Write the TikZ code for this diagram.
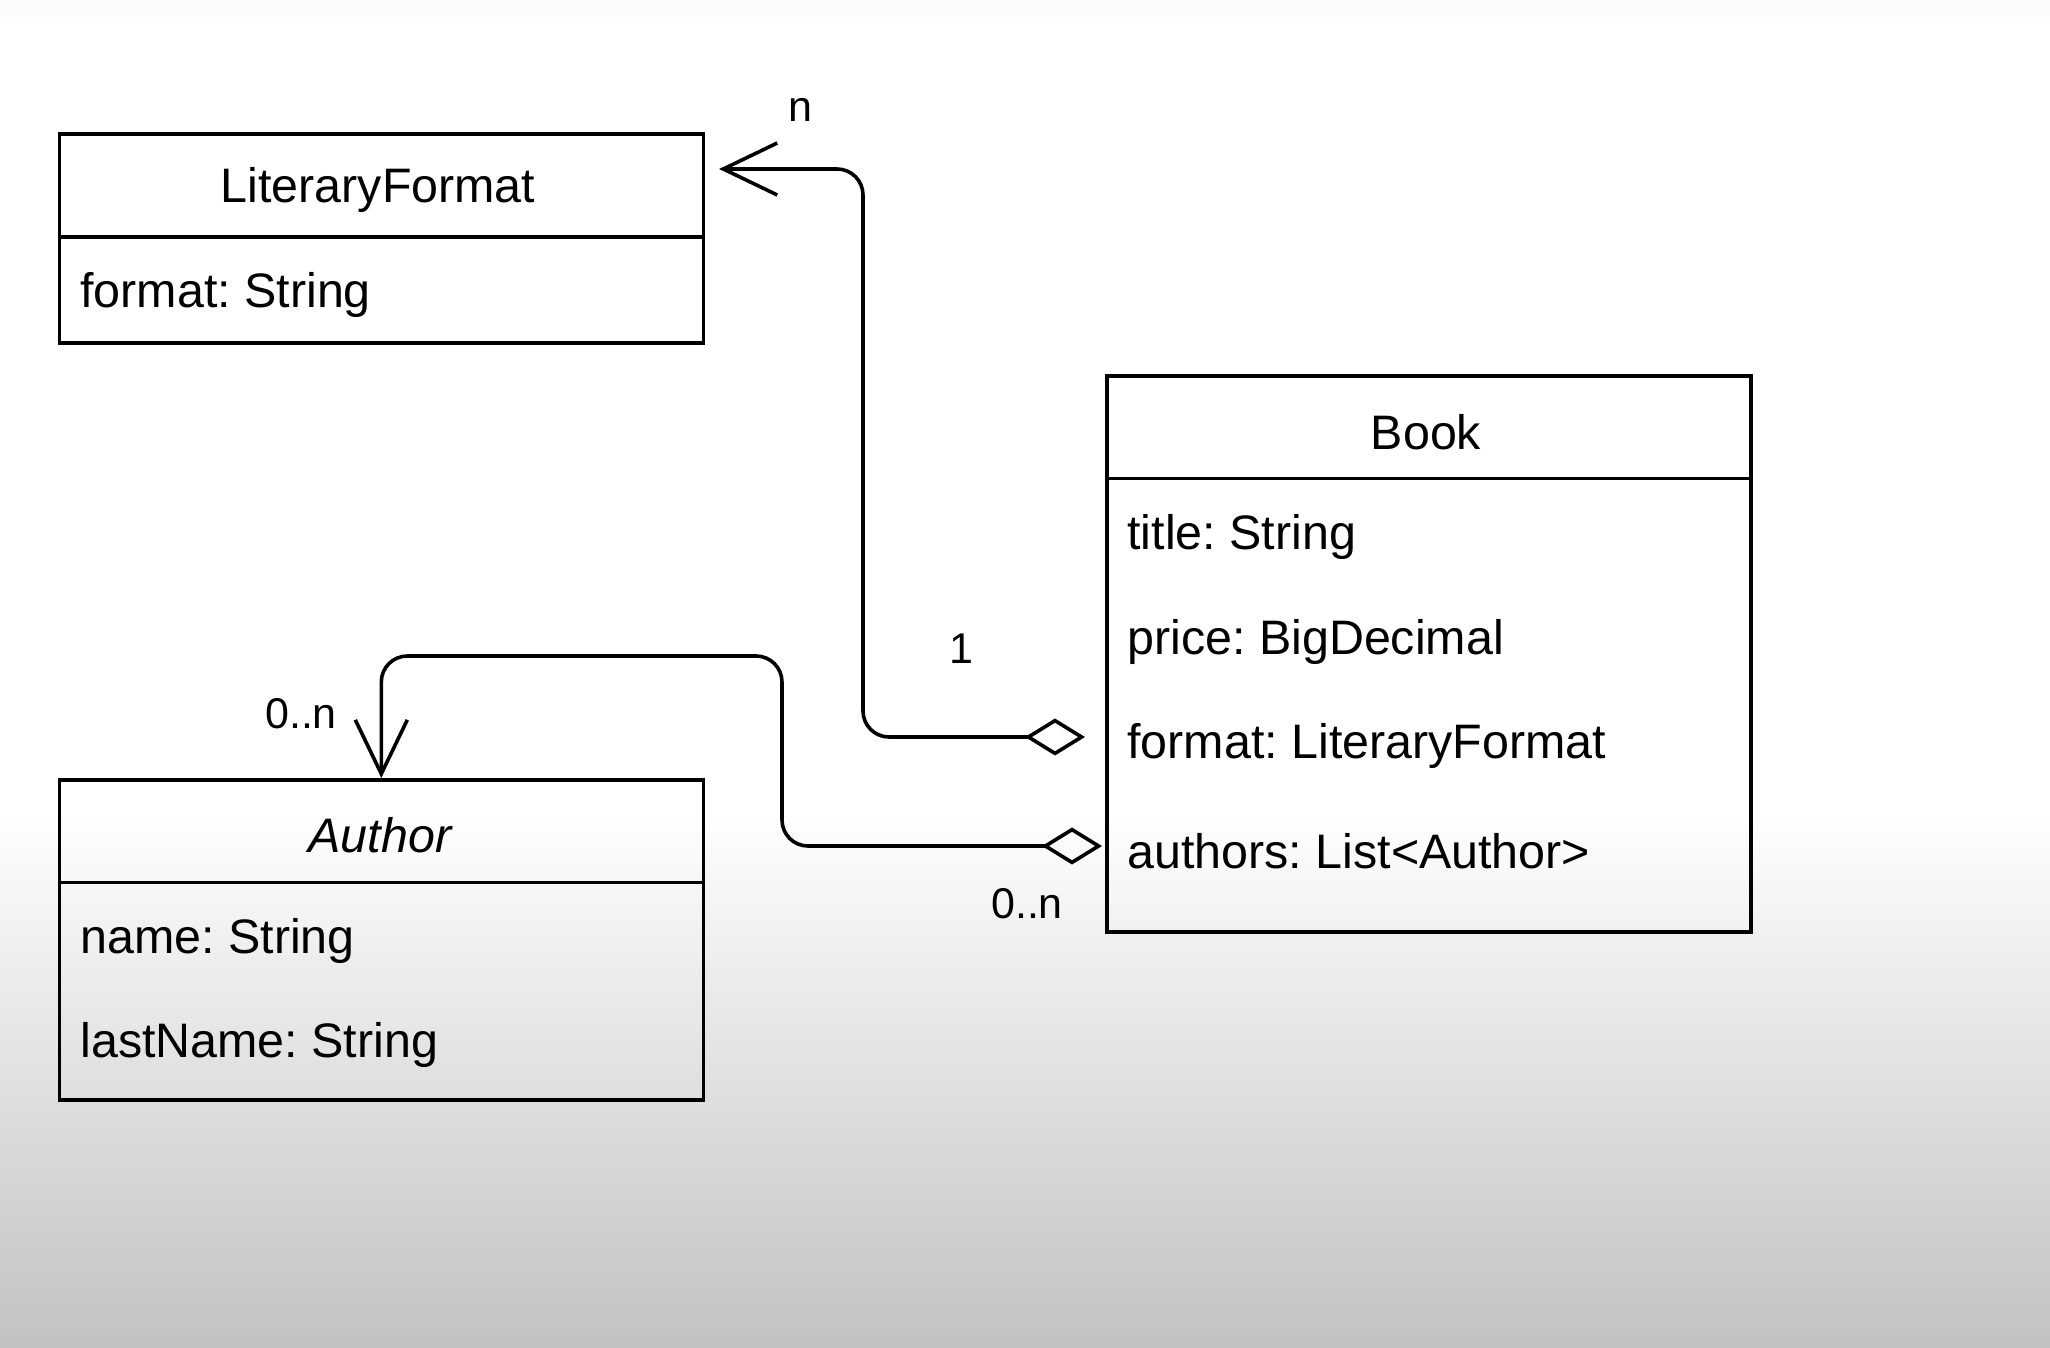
\documentclass[tikz,border=0pt]{standalone}
\usepackage{fontspec}
\setmainfont{Liberation Sans}
\frenchspacing
\usetikzlibrary{positioning,calc,arrows.meta}

\tikzset{
  classbox/.style={draw, line width=1.8pt, inner sep=0pt, anchor=north west, minimum width=322pt},
  divider/.style={line width=1.8pt},
  classname/.style={inner sep=0pt, font=\fontsize{24.2}{29}\selectfont},
  field/.style={anchor=west, inner sep=0pt, font=\fontsize{24.2}{29}\selectfont},
  mult/.style={inner sep=0pt, font=\fontsize{21.5}{26}\selectfont},
  assoc/.style={line width=1.8pt, rounded corners=13pt},
  aggr/.style={assoc, {Diamond[open,length=30pt,width=18.5pt]}-{Straight Barb[length=27pt,width=26pt]}}
}

\begin{document}
\begin{tikzpicture}[x=0.5pt,y=-0.5pt]
        % Background
        \useasboundingbox (0,0) rectangle (2050,1348);
        \fill[white] (0,0) rectangle (2050,1348);
        \shade[top color=black!2, bottom color=white] (0,0) rectangle (2050,24);
        \shade[top color=white, bottom color=black!24] (0,810) rectangle (2050,1348);

        % LiteraryFormat
        \node[classbox, minimum height=104.5pt] (fmt) at (57.5,132) {};
        \draw[divider] (fmt.west |- 0,237) -- (fmt.east |- 0,237);
        \node[classname] (fmtname) at (378,190) {LiteraryFormat};
        \node[field] (fmtf) at (80,295) {format: String};

        % Book
        \node[classbox, minimum height=278pt] (book) at (1105,374) {};
        \draw[divider] (book.west |- 0,478.5) -- (book.east |- 0,478.5);
        \node[classname] (bookname) at (1426,432) {Book};
        \node[field] (btitle) at (1127,537) {title: String};
        \node[field] (bprice) at (1127,642) {price: BigDecimal};
        \node[field] (bfmt) at (1127,746) {format: LiteraryFormat};
        \node[field] (bauth) at (1127,851) {authors: List<Author>};

        % Author
        \node[classbox, minimum height=160pt] (author) at (57.5,778) {};
        \draw[divider] (author.west |- 0,882.5) -- (author.east |- 0,882.5);
        \node[classname, font=\fontsize{24.2}{29}\selectfont\itshape] (authname) at (380,835) {Author};
        \node[field] (aname) at (80,941) {name: String};
        \node[field] (alast) at (80,1045) {lastName: String};

        % Associations
        \draw[aggr, shorten <=10pt, shorten >=7pt] (book.west |- 0,737) -- (863,737) -- (863,169) -- (fmt.east |- 0,169);
        \draw[aggr, shorten <=1.5pt] (book.west |- 0,846) -- (782,846) -- (782,656) -- (author.north |- 0,656) -- (author.north);

        % Multiplicities
        \node[mult] (nlab) at (800,110) {n};
        \node[mult] (onelab) at (961,649) {1};
        \node[mult] (alab) at (301,714) {0..n};
        \node[mult] (blab) at (1027,904) {0..n};
\end{tikzpicture}
\end{document}
